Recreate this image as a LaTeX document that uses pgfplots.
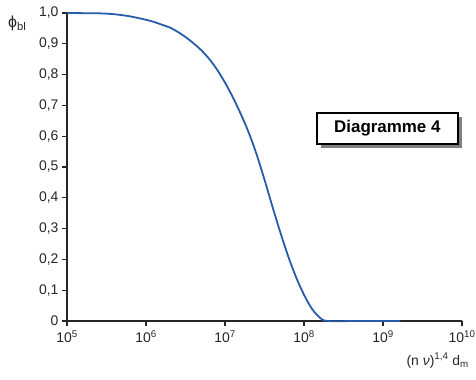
\documentclass[border=0pt]{standalone}
\usepackage{fontspec}
\setmainfont{Liberation Sans}
\usepackage{pgfplots}
\pgfplotsset{compat=1.18}
\definecolor{curveblue}{RGB}{38,92,170}
\begin{document}
\begin{tikzpicture}
\begin{axis}[
  at={(0,0)}, anchor=south west,
  scale only axis, width=395bp, height=308bp,
  xmode=log, xmin=1e5, xmax=1e10, ymin=0, ymax=1,
  axis lines=left, axis line style={line width=1.4pt, -, black!85},
  xtick={1e5,1e6,1e7,1e8,1e9,1e10},
  xticklabels={10\textsuperscript{5},10\textsuperscript{6},10\textsuperscript{7},10\textsuperscript{8},10\textsuperscript{9},10\textsuperscript{10}},
  ytick={0,0.1,0.2,0.3,0.4,0.5,0.6,0.7,0.8,0.9,1},
  yticklabels={0,{0,1},{0,2},{0,3},{0,4},{0,5},{0,6},{0,7},{0,8},{0,9},{1,0}},
  minor tick num=0, xminorticks=false,
  tick align=outside, major tick length=5bp,
  tick style={line width=1.4pt, black!85},
  tick label style={font=\fontsize{14}{16}\selectfont, text=black!85},
  xticklabel style={yshift=-1bp},
  clip=false,
]
\addplot[curveblue, line width=1.8pt, smooth, tension=0.5] coordinates {
(1e5,1.000) (1.585e5,0.9995) (2.512e5,0.999) (3.981e5,0.996) (6.31e5,0.989)
(1e6,0.978) (1.259e6,0.971) (1.585e6,0.962) (1.995e6,0.953) (2.512e6,0.939)
(3.162e6,0.922) (3.981e6,0.902) (5.012e6,0.879) (6.31e6,0.851) (7.943e6,0.816)
(1e7,0.774) (1.259e7,0.726) (1.585e7,0.672) (1.995e7,0.612) (2.512e7,0.541)
(3.162e7,0.459) (3.981e7,0.372) (5.012e7,0.288) (6.31e7,0.210) (7.943e7,0.142)
(1e8,0.085) (1.259e8,0.040) (1.585e8,0.011) (1.995e8,0.000) (5e8,0.000) (1.66e9,0.000)
};
\node[draw=none, fill=black!50, minimum width=141bp, minimum height=31bp, inner sep=0pt]
  at ([xshift=4bp,yshift=-4bp]rel axis cs:0.811,0.625) {};
\node[draw=black, line width=1.4pt, fill=white, minimum width=141bp, minimum height=31bp, inner sep=0pt,
  font=\fontsize{17}{19}\selectfont\bfseries]
  at (rel axis cs:0.811,0.625) {Diagramme 4};
\node[anchor=north west, font=\fontsize{16}{18}\selectfont, inner sep=0pt, text=black!85]
  at ([xshift=-59bp,yshift=-3bp]rel axis cs:0,1) {ϕ\textsubscript{bl}};
\node[anchor=north east, font=\fontsize{14}{16}\selectfont, inner sep=0pt, text=black!85]
  at ([xshift=7bp,yshift=-32bp]rel axis cs:1,0) {(n {\itshape ν})\textsuperscript{1,4} d\textsubscript{m}};
\end{axis}
\pgfresetboundingbox
\path (-67bp,-59bp) rectangle (409bp,321bp);
\end{tikzpicture}
\end{document}
